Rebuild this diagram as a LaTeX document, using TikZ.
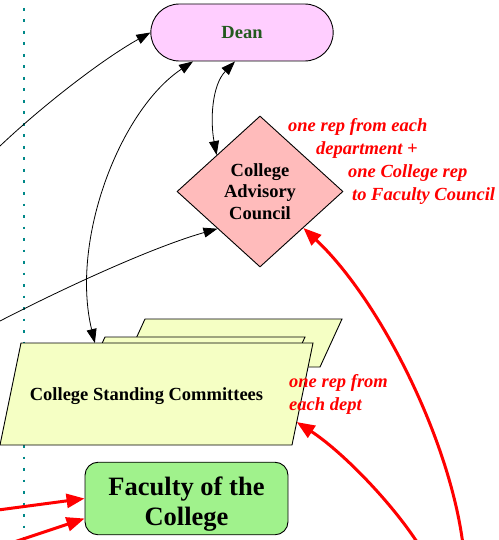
\documentclass[tikz,border=0pt]{standalone}
\usepackage{fontspec}
\setmainfont{Liberation Serif}
\usetikzlibrary{arrows.meta,shapes.geometric,shapes.misc,calc}

\definecolor{deanfill}{RGB}{255,206,255}
\definecolor{deantext}{RGB}{35,90,30}
\definecolor{councilfill}{RGB}{255,187,187}
\definecolor{committeefill}{RGB}{245,255,196}
\definecolor{facultyfill}{RGB}{160,242,140}
\definecolor{dotteal}{RGB}{0,136,136}

\tikzset{
    blackarr/.style={line width=0.8pt, -{Triangle[length=14pt,width=10pt]}},
    bothblack/.style={line width=0.8pt, {Triangle[length=14pt,width=10pt]}-{Triangle[length=14pt,width=10pt]}},
    redarr/.style={red, line width=3pt, -{Triangle[length=18pt,width=14pt]}},
    committee/.style={draw=black, line width=0.9pt, fill=committeefill},
    note/.style={red, font=\fontsize{18.5}{23}\selectfont\bfseries\itshape, align=left, inner sep=0pt, anchor=north west}
}

\begin{document}
\begin{tikzpicture}[x=1pt,y=-1pt]
        \useasboundingbox (0,0) rectangle (498,540);
        \draw[dotteal, line width=2.8pt, dash pattern=on 2.8pt off 8.7pt] (24,8) -- (24,540);
        \node[rounded rectangle, minimum width=189pt, minimum height=57pt, draw=black, line width=0.9pt, fill=deanfill, text=deantext, font=\fontsize{18.5}{22}\selectfont\bfseries] (dean) at (242,32.5) {Dean};
        \node[diamond, minimum width=166pt, minimum height=151pt, inner sep=0pt, draw=black, line width=0.9pt, fill=councilfill, align=center, font=\fontsize{18.5}{21.5}\selectfont\bfseries] (council) at (260,191.5) {College\\Advisory\\Council};
        \draw[committee] (145,319) -- (342,319) -- (320,367) -- (123,367) -- cycle;
        \draw[committee] (105,337) -- (305,337) -- (283,385) -- (83,385) -- cycle;
        \coordinate (top left) at (21,343);
        \coordinate (top right) at (313,343);
        \coordinate (bottom right) at (292,445);
        \coordinate (bottom left) at (0,445);
        \draw[committee] (top left) -- (top right) -- (bottom right) -- (bottom left) -- cycle;
        \node[font=\fontsize{18.5}{22}\selectfont\bfseries] (committees) at (146.5,396) {College Standing Committees};
        \node[rectangle, rounded corners=13pt, minimum width=203pt, minimum height=71pt, draw=black, line width=0.9pt, fill=facultyfill, align=center, font=\fontsize{26.5}{30}\selectfont\bfseries] (faculty) at (186.5,498.5) {\rule{0pt}{30pt}Faculty of the\\College};
        \node[note] (councilnote) at (288,118) {one rep from each\\\hspace*{28pt}department +\\\hspace*{60pt}one College rep\\\hspace*{64pt}to Faculty Council};
        \node[note] (committeenote) at (289,374) {one rep from\\each dept};
        \coordinate (left1) at (0,146);
        \coordinate (left2) at (0,321);
        \coordinate (left3) at (-2,510);
        \coordinate (left4) at (8,544);
        \coordinate (bottom1) at (463,545);
        \coordinate (bottom2) at (419,545);
        \draw[blackarr] (left1) .. controls +(40,-38) and +(-50,28) .. (dean.west);
        \draw[bothblack] ($(top left)!0.253!(top right)$) .. controls (70,240) and (120,110) .. ([xshift=-49pt]dean.south);
        \draw[bothblack] ([xshift=-7pt]dean.south) .. controls (212,85) and (210,120) .. ($(council.west)!0.48!(council.north)$);
        \draw[blackarr] (left2) .. controls (60,290) and (150,248) .. ($(council.west)!0.49!(council.south)$);
        \draw[redarr] (bottom1) .. controls (450,440) and (380,300) .. ($(council.south)!0.52!(council.east)$);
        \draw[redarr] (bottom2) .. controls (390,500) and (340,450) .. ($(bottom right)!0.225!(top right)$);
        \draw[redarr] (left3) -- (faculty.west);
        \draw[redarr] (left4) -- ([yshift=-20pt]faculty.west);
\end{tikzpicture}
\end{document}
